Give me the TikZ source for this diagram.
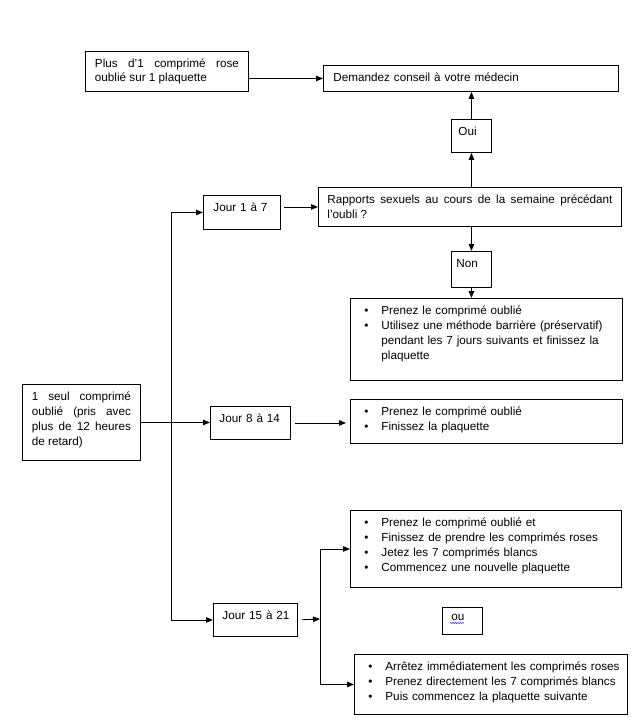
\documentclass[tikz,border=0pt]{standalone}
\usepackage{fontspec}
\setmainfont{Liberation Sans}
\usetikzlibrary{arrows.meta,decorations.pathmorphing}
\hyphenpenalty=10000
\hbadness=10000
% une ligne à puce
\newcommand{\puce}[1]{\hangindent=25pt\hangafter=1\noindent\makebox[25pt][l]{\hspace{8pt}\textbullet}#1\par}

\tikzset{
	boite/.style={draw, line width=0.9pt, anchor=north west, inner ysep=0pt,
		text height=16pt, font=\fontsize{11.7}{15}\selectfont},
	fleche/.style={line width=0.9pt, -{Triangle[length=7pt,width=5.5pt]}},
}

\begin{document}
\begin{tikzpicture}[x=1pt,y=-1pt]
		\useasboundingbox (0,0) rectangle (642,720);
		
		% plus d'un comprimé
		\node[boite, text width=144pt, inner xsep=9.5pt, text depth=24pt, align=justify,
			font=\fontsize{11.7}{13.6}\selectfont] (plus) at (85,51)
			{Plus d'1 comprimé rose\linebreak oublié sur 1 plaquette};
		\node[boite, text width=275pt, inner xsep=10pt, text depth=10pt] (medecin) at (323,65)
			{Demandez conseil à votre médecin};
		\node[boite, text width=26pt, inner xsep=7pt, text depth=17pt] (oui) at (451,119) {Oui};
		\node[boite, text width=285pt, inner xsep=9pt, text depth=23pt, align=justify] (rapports) at (318,187)
			{Rapports sexuels au cours de la semaine précédant\linebreak l'oubli~?};
		\node[boite, text width=30pt, inner xsep=5pt, text depth=20pt] (non) at (451,251) {Non};
		\node[boite, text width=260pt, inner xsep=6pt, text depth=66pt, align=left] (cas1) at (350,298)
			{\puce{Prenez le comprimé oublié}
			 \puce{Utilisez une méthode barrière (préservatif) pendant les 7 jours suivants et finissez la plaquette}};
		
		% un seul comprimé
		\node[boite, text width=99pt, inner xsep=9.5pt, text depth=60pt, align=justify] (seul) at (22,384)
			{1 seul comprimé\linebreak oublié (pris avec\linebreak plus de 12 heures\linebreak de retard)};
		\node[boite, text width=57pt, inner xsep=10pt, text depth=18pt] (jour1) at (203,195) {Jour 1 à 7};
		\node[boite, text width=62pt, inner xsep=9pt, text depth=17pt] (jour8) at (210,406) {Jour 8 à 14};
		\node[boite, text width=72pt, inner xsep=6pt, text depth=17pt] (jour15) at (213,603)
			{\hspace{3pt}Jour 15 à 21};
		\node[boite, text width=260pt, inner xsep=6pt, text depth=28pt, align=left] (cas2) at (350,399)
			{\puce{Prenez le comprimé oublié}
			 \puce{Finissez la plaquette}};
		\node[boite, text width=259pt, inner xsep=6pt, text depth=61pt, align=left] (cas3) at (350,510)
			{\puce{Prenez le comprimé oublié et}
			 \puce{Finissez de prendre les comprimés roses}
			 \puce{Jetez les 7 comprimés blancs}
			 \puce{Commencez une nouvelle plaquette}};
		\node[boite, text width=22pt, inner xsep=9pt, text height=13pt, text depth=14pt] (ou) at (442,607) {ou};
		\draw[blue!80, line width=0.5pt, decorate, decoration={snake, amplitude=0.7pt, segment length=2.4pt}]
			(450,623) -- (464,623);
		\node[boite, text width=261pt, inner xsep=6pt, text depth=44pt, align=left] (cas4) at (354,654)
			{\puce{Arrêtez immédiatement les comprimés roses}
			 \puce{Prenez directement les 7 comprimés blancs}
			 \puce{Puis commencez la plaquette suivante}};
		
		\coordinate (tronc) at (171,0);
		\coordinate (fourche) at (320,619);
		
		\draw[fleche] (plus.east |- medecin) -- (medecin);
		\draw[fleche] (oui.south |- rapports.north) -- (oui.south);
		\draw[fleche] (oui.north) -- (oui.north |- medecin.south);
		\draw[fleche] (non.north |- rapports.south) -- (non.north);
		\draw[fleche] (non.south) -- (non.south |- cas1.north);
		\draw[fleche, shorten <=3pt] (jour1.east |- rapports) -- (rapports);
		
		\draw[fleche] (tronc |- seul) -- (tronc |- jour1) -- (jour1);
		\draw[fleche] (tronc |- seul) -- (tronc |- jour15) -- (jour15);
		\draw[fleche] (seul.east) -- (seul.east -| jour8.west);
		\draw[fleche, shorten <=4pt, shorten >=4pt] (jour8.east) -- (jour8.east -| cas2.west);
		\draw[fleche, shorten <=4pt] (jour15.east) -- (fourche);
		\draw[fleche] (fourche) -- (fourche |- cas3) -- (cas3);
		\draw[fleche] (fourche) -- (fourche |- cas4) -- (cas4);
	\end{tikzpicture}
\end{document}
